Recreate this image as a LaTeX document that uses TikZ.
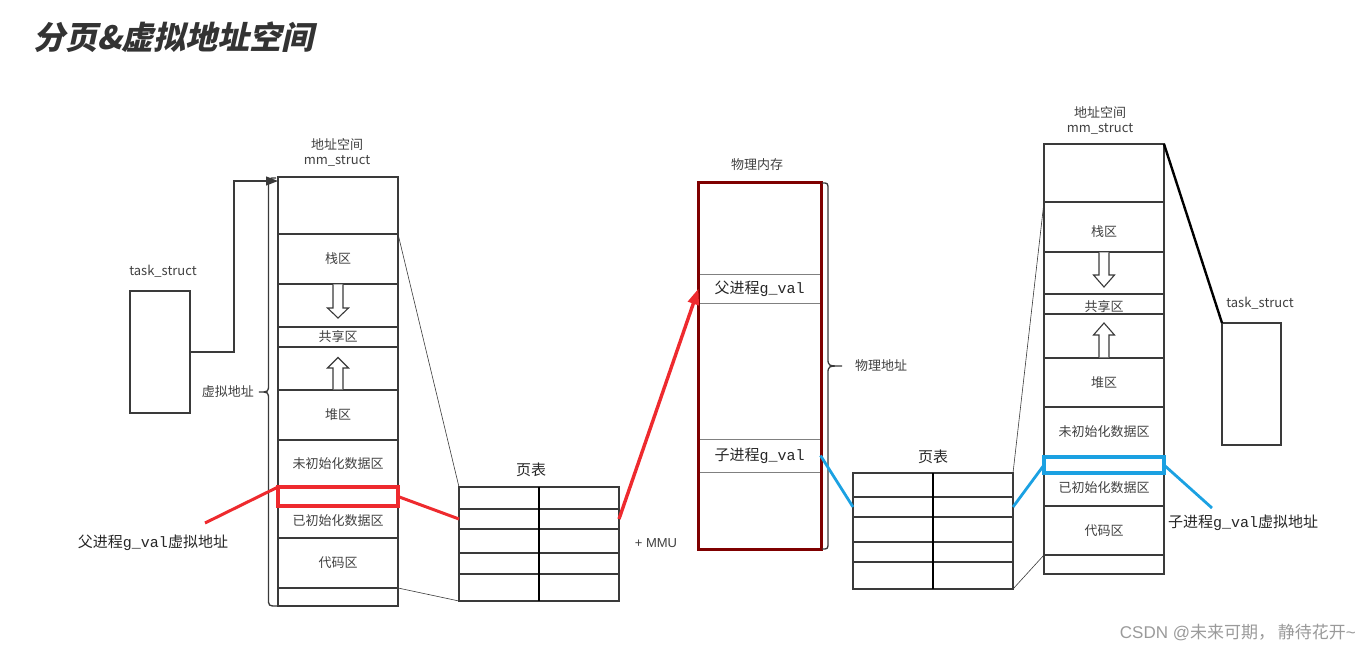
\documentclass[tikz,border=0pt]{standalone}
\usepackage{fontspec}
\setmainfont{Noto Sans CJK SC}
\newfontfamily\titlefont{Noto Sans CJK SC}[FakeSlant=0.22]
\newfontfamily\gmono{Liberation Mono}
\newfontfamily\wmsans{Liberation Sans}
\usetikzlibrary{arrows.meta}
\definecolor{linec}{HTML}{3A3A3A}
\definecolor{txtc}{HTML}{404040}
\definecolor{redc}{HTML}{EE2A2E}
\definecolor{bluec}{HTML}{1BA1E2}
\definecolor{maroonc}{HTML}{7F0000}
\definecolor{wmc}{HTML}{9A9A9A}
\begin{document}
\begin{tikzpicture}[x=1pt,y=-1pt,
  seg/.style={draw=linec,line width=1.3pt,minimum width=120pt,inner sep=0pt,outer sep=0pt,font=\fontsize{13}{13}\selectfont,text=txtc},
  cell/.style={draw=linec,line width=1.3pt,minimum width=80pt,inner sep=0pt,outer sep=0pt},
  prow/.style={draw=gray,line width=0.8pt,minimum width=122pt,inner sep=0pt,outer sep=0pt,font=\fontsize{15}{15}\selectfont,text=black!85},
  lbl/.style={inner sep=0pt,font=\fontsize{13}{15}\selectfont,text=txtc,align=center},
  biglbl/.style={inner sep=0pt,font=\fontsize{15}{15}\selectfont,text=black!85},
  hollow/.style={draw=linec,line width=1.1pt,fill=white},
  thin/.style={draw=linec,line width=0.6pt},
  taskbox/.style={draw=linec,line width=1.3pt,minimum width=60pt,minimum height=122pt,inner sep=0pt,outer sep=0pt},
]
\useasboundingbox (0,0) rectangle (1369,652);

% title
\node[anchor=west,inner sep=0pt,text=black!80,font=\titlefont\bfseries\fontsize{32}{32}\selectfont] (title) at (33,37) {分页\&虚拟地址空间};

% ---------------- left task_struct
\node[taskbox] (Ltask) at (160,352) {};
\node[lbl] (LtaskL) at (163,271) {task\_struct};

% ---------------- left address space
\node[lbl] (LmmL) at (337,152) {地址空间\\mm\_struct};
\node[seg,minimum height=57pt] (Ltop) at (338,205.5) {};
\node[seg,minimum height=50pt] (Lstack) at (338,259) {栈区};
\node[seg,minimum height=43pt] (Lgap1) at (338,305.5) {};
\node[seg,minimum height=20pt] (Lshare) at (338,337) {共享区};
\node[seg,minimum height=43pt] (Lgap2) at (338,368.5) {};
\node[seg,minimum height=50pt] (Lheap) at (338,415) {堆区};
\node[seg,minimum height=47pt] (Lbss) at (338,463.5) {未初始化数据区};
\node[seg,minimum height=51pt] (Ldata) at (338,512.5) {};
\node[lbl,font=\fontsize{13}{13}\selectfont] (LdataL) at (338,521) {已初始化数据区};
\node[seg,minimum height=50pt] (Lcode) at (338,563) {代码区};
\node[seg,minimum height=18pt] (Lbot) at (338,597) {};
\node[draw=redc,line width=3.2pt,minimum width=120pt,minimum height=19pt,inner sep=0pt,outer sep=0pt] (Lval) at (338,496.5) {};

% hollow arrows left
\draw[hollow] (333,284.5) -- (333,308) -- (327.5,308) -- (338,318) -- (348.5,308) -- (343,308) -- (343,284.5);
\draw[hollow] (333,389.5) -- (333,368) -- (327.5,368) -- (338,357.5) -- (348.5,368) -- (343,368) -- (343,389.5);

% left brace
\draw[linec,line width=1.3pt] (276,178) .. controls (268.5,178) .. (268.5,186) -- (268.5,384) .. controls (268.5,392) .. (259,392) .. controls (268.5,392) .. (268.5,400) -- (268.5,598) .. controls (268.5,606) .. (277,606);
\node[lbl,anchor=east] (LvirtL) at (254,392) {虚拟地址};

% task -> mm arrow
\coordinate (Lbend) at (234,181);
\draw[linec,line width=1.3pt,-{Triangle[length=12pt,width=9pt]}] (Ltask.east) -| (Lbend) -- (Lbend -| Ltop.west);

% ---------------- left page table
\node[biglbl] (PLL) at (531,470) {页表};
\node[cell,minimum height=22pt] (PL1a) at (499,498) {};
\node[cell,minimum height=22pt] (PL1b) at (579,498) {};
\node[cell,minimum height=20pt] (PL2a) at (499,519) {};
\node[cell,minimum height=20pt] (PL2b) at (579,519) {};
\node[cell,minimum height=24pt] (PL3a) at (499,541) {};
\node[cell,minimum height=24pt] (PL3b) at (579,541) {};
\node[cell,minimum height=21pt] (PL4a) at (499,563.5) {};
\node[cell,minimum height=21pt] (PL4b) at (579,563.5) {};
\node[cell,minimum height=27pt] (PL5a) at (499,587.5) {};
\node[cell,minimum height=27pt] (PL5b) at (579,587.5) {};
\draw[black,line width=2.6pt] (PL1a.north east) -- (PL5a.south east);

\draw[thin] (Lstack.north east) -- (PL1a.north west);
\draw[thin] (Lbot.north east) -- (PL5a.south west);

% ---------------- physical memory
\node[lbl] (PhysL) at (757,165) {物理内存};
\node[prow,minimum height=29pt] (Pparent) at (759.5,288.5) {父进程{\gmono g\_val}};
\node[prow,minimum height=33pt] (Pchild) at (759.5,455.5) {子进程{\gmono g\_val}};
\node[draw=maroonc,line width=3pt,minimum width=123pt,minimum height=366pt,inner sep=0pt,outer sep=0pt] (Phys) at (759.5,366) {};
\draw[linec,line width=1.3pt] (822,183) .. controls (828,183) .. (828,190) -- (828,358) .. controls (828,366) .. (842,366) .. controls (828,366) .. (828,374) -- (828,542) .. controls (828,549) .. (822,549);
\node[lbl,anchor=west] (PaddrL) at (855,366) {物理地址};
\node[lbl,font=\wmsans\fontsize{13}{13}\selectfont] (MMUL) at (656,543) {+ MMU};

% ---------------- right page table
\node[biglbl] (PRL) at (933,457) {页表};
\node[cell,minimum height=24pt] (PR1a) at (893,485) {};
\node[cell,minimum height=24pt] (PR1b) at (973,485) {};
\node[cell,minimum height=20pt] (PR2a) at (893,507) {};
\node[cell,minimum height=20pt] (PR2b) at (973,507) {};
\node[cell,minimum height=25pt] (PR3a) at (893,529.5) {};
\node[cell,minimum height=25pt] (PR3b) at (973,529.5) {};
\node[cell,minimum height=20pt] (PR4a) at (893,552) {};
\node[cell,minimum height=20pt] (PR4b) at (973,552) {};
\node[cell,minimum height=27pt] (PR5a) at (893,575.5) {};
\node[cell,minimum height=27pt] (PR5b) at (973,575.5) {};
\draw[black,line width=2.6pt] (PR1a.north east) -- (PR5a.south east);

% ---------------- right address space
\node[lbl] (RmmL) at (1100,120) {地址空间\\mm\_struct};
\node[seg,minimum height=58pt] (Rtop) at (1104,173) {};
\node[seg,minimum height=50pt] (Rstack) at (1104,227) {};
\node[lbl,font=\fontsize{13}{13}\selectfont] (RstackL) at (1104,232) {栈区};
\node[seg,minimum height=42pt] (Rgap1) at (1104,273) {};
\node[seg,minimum height=20pt] (Rshare) at (1104,304) {};
\node[lbl,font=\fontsize{13}{13}\selectfont] (RshareL) at (1104,307) {共享区};
\node[seg,minimum height=44pt] (Rgap2) at (1104,336) {};
\node[seg,minimum height=49pt] (Rheap) at (1104,382.5) {堆区};
\node[seg,minimum height=50pt] (Rbss) at (1104,432) {未初始化数据区};
\node[seg,minimum height=49pt] (Rdata) at (1104,481.5) {};
\node[lbl,font=\fontsize{13}{13}\selectfont] (RdataL) at (1104,488) {已初始化数据区};
\node[seg,minimum height=49pt] (Rcode) at (1104,530.5) {代码区};
\node[seg,minimum height=19pt] (Rbot) at (1104,564.5) {};
\node[draw=bluec,line width=3.2pt,minimum width=120pt,minimum height=16pt,inner sep=0pt,outer sep=0pt] (Rval) at (1104,465) {};

% hollow arrows right
\draw[hollow] (1099,252.5) -- (1099,275) -- (1093.5,275) -- (1104,287) -- (1114.5,275) -- (1109,275) -- (1109,252.5);
\draw[hollow] (1099,357.5) -- (1099,335) -- (1093.5,335) -- (1104,323) -- (1114.5,335) -- (1109,335) -- (1109,357.5);

% right task_struct
\node[taskbox,minimum width=59pt] (Rtask) at (1251.5,384) {};
\node[lbl] (RtaskL) at (1260,303) {task\_struct};
\draw[black,line width=2.4pt] (Rtop.north east) -- (Rtask.north west);

\draw[thin] (PR1b.north east) -- (Rstack.north west);
\draw[thin] (PR5b.south east) -- (Rbot.north west);

% ---------------- red connectors
\node[biglbl] (ParentL) at (153,543) {父进程{\gmono g\_val}虚拟地址};
\coordinate (Pend) at (205,523);
\draw[redc,line width=3pt] (Lval.north west) -- (Pend);
\draw[redc,line width=3pt] (Lval.east) -- (PL2a.west);
\draw[redc,line width=3.4pt,-{Triangle[length=16pt,width=11pt]}] (PL2b.east) -- (Pparent.west);

% ---------------- blue connectors
\node[biglbl,anchor=west] (ChildL) at (1168,523) {子进程{\gmono g\_val}虚拟地址};
\coordinate (Cend) at (1212,508);
\draw[bluec,line width=2.8pt] (Pchild.east) -- (PR2a.west);
\draw[bluec,line width=2.8pt] (PR2b.east) -- (Rval.west);
\draw[bluec,line width=2.8pt] (Rval.east) -- (Cend);

% watermark
\node[inner sep=0pt,anchor=east,text=wmc,font=\fontsize{17}{17}\selectfont] (wm) at (1356,633) {{\wmsans CSDN @}未来可期，\,静待花开{\wmsans\textasciitilde}};
\end{tikzpicture}
\end{document}
